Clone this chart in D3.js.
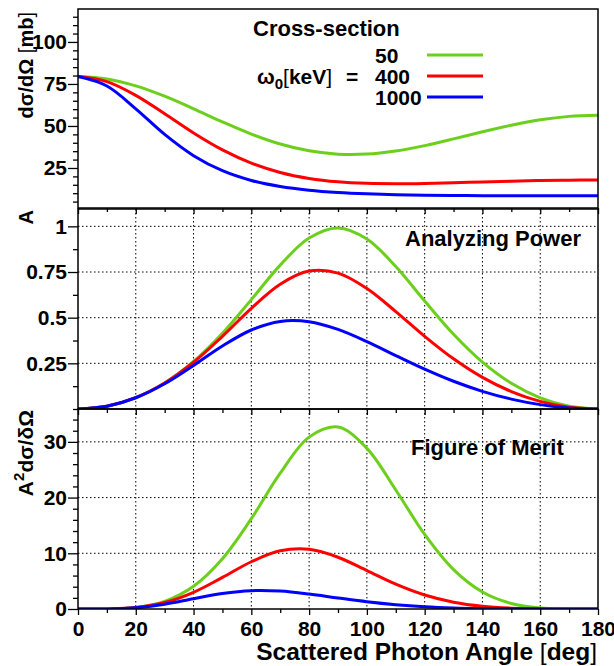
<!DOCTYPE html>
<html>
<head>
<meta charset="utf-8">
<script src="https://cdn.jsdelivr.net/npm/d3@7"></script>
<style>
  body { margin: 0; background: #fff; }
  text { font-family: "Liberation Sans", Arial, Helvetica, sans-serif; font-weight: bold; fill: #000; }
</style>
</head>
<body>
<svg id="chart" width="614" height="666"></svg>
<script>
// scattering angle samples [deg]
const angles = [0, 10, 20, 30, 40, 50, 60, 70, 80, 90, 100, 110, 120, 130, 140, 150, 160, 170, 180];

// cross-section dσ/dΩ [mb]
const xsec50   = [79.4, 77.97, 73.88, 67.70, 60.23, 52.42, 45.19, 39.28, 35.21, 33.23, 33.28, 35.12, 38.30, 42.30, 46.54, 50.48, 53.66, 55.71, 56.43];
const xsec400  = [79.4, 76.38, 68.21, 57.24, 45.81, 35.74, 27.89, 22.35, 18.80, 16.78, 15.85, 15.63, 15.82, 16.23, 16.71, 17.16, 17.52, 17.75, 17.83];
const xsec1000 = [79.4, 73.79, 60.20, 44.97, 32.33, 23.39, 17.59, 13.97, 11.76, 10.42, 9.61, 9.12, 8.82, 8.64, 8.53, 8.47, 8.44, 8.42, 8.41];

// analyzing power A
const ap50   = [0, 0.0153, 0.0621, 0.1428, 0.2603, 0.4149, 0.5989, 0.7878, 0.9360, 0.9914, 0.9308, 0.7799, 0.5911, 0.4088, 0.2563, 0.1406, 0.0611, 0.0151, 0];
const ap400  = [0, 0.0153, 0.0621, 0.1420, 0.2558, 0.3980, 0.5514, 0.6834, 0.7552, 0.7442, 0.6597, 0.5335, 0.3981, 0.2747, 0.1730, 0.0955, 0.0418, 0.0103, 0];
const ap1000 = [0, 0.0153, 0.0617, 0.1385, 0.2387, 0.3450, 0.4325, 0.4794, 0.4779, 0.4357, 0.3687, 0.2925, 0.2181, 0.1518, 0.0968, 0.0542, 0.0239, 0.0060, 0];

// figure of merit A^2 dσ/dΩ
const fom50   = [0, 0.018, 0.285, 1.381, 4.081, 9.024, 16.21, 24.38, 30.85, 32.65, 28.83, 21.36, 13.38, 7.069, 3.056, 0.998, 0.201, 0.013, 0];
const fom400  = [0, 0.018, 0.263, 1.155, 2.998, 5.663, 8.481, 10.44, 10.72, 9.295, 6.900, 4.448, 2.507, 1.225, 0.500, 0.157, 0.031, 0.002, 0];
const fom1000 = [0, 0.017, 0.229, 0.863, 1.843, 2.785, 3.291, 3.211, 2.686, 1.978, 1.306, 0.780, 0.419, 0.199, 0.080, 0.025, 0.005, 0.0003, 0];

const energies = ["50", "400", "1000"];
const colors = ["#6ccf1c", "#ff0000", "#0000ff"];

const xTicks = [0, 20, 40, 60, 80, 100, 120, 140, 160, 180];
const csTicks = [25, 50, 75, 100];
const apTicks = [0.25, 0.5, 0.75, 1];
const fomTicks = [0, 10, 20, 30];

const svg = d3.select("#chart");
const xLeft = 78, xRight = 598;
const xScale = d3.scaleLinear().domain([0, 180]).range([xLeft, xRight]);

const panels = [
  { id: "cs", top: 9, bottom: 208, domain: [1.19, 119.6], ticks: csTicks, minorStep: 5,
    grid: false, series: [xsec50, xsec400, xsec1000] },
  { id: "ap", top: 209, bottom: 409, domain: [0, 1.095], ticks: apTicks, minorStep: 0.125,
    grid: true, series: [ap50, ap400, ap1000] },
  { id: "fom", top: 409, bottom: 609, domain: [0, 35.9], ticks: fomTicks, minorStep: 2,
    grid: true, series: [fom50, fom400, fom1000] }
];

panels.forEach((p, pi) => {
  const y = d3.scaleLinear().domain(p.domain).range([p.bottom, p.top]);
  const g = svg.append("g").attr("class", "panel-" + p.id);

  g.append("clipPath").attr("id", "clip-" + p.id)
    .append("rect").attr("x", xLeft).attr("y", p.top)
    .attr("width", xRight - xLeft).attr("height", p.bottom - p.top);

  // dotted grid
  if (p.grid) {
    g.selectAll(".vgrid").data(xTicks.filter(d => d > 0 && d < 180)).enter()
      .append("line").attr("class", "vgrid")
      .attr("x1", d => xScale(d)).attr("x2", d => xScale(d))
      .attr("y1", p.top).attr("y2", p.bottom)
      .style("stroke", "#000").style("stroke-width", 1).style("stroke-dasharray", "1.5,2.5");
    g.selectAll(".hgrid").data(p.ticks.filter(d => d > p.domain[0])).enter()
      .append("line").attr("class", "hgrid")
      .attr("x1", xLeft).attr("x2", xRight)
      .attr("y1", d => y(d)).attr("y2", d => y(d))
      .style("stroke", "#000").style("stroke-width", 1).style("stroke-dasharray", "1.5,2.5");
  }

  // curves
  const line = d3.line()
    .x((d, i) => xScale(angles[i]))
    .y(d => y(d))
    .curve(d3.curveCatmullRom.alpha(0.5));
  p.series.forEach((s, si) => {
    g.append("path").datum(s)
      .attr("clip-path", "url(#clip-" + p.id + ")")
      .attr("d", line)
      .style("fill", "none")
      .style("stroke", colors[si])
      .style("stroke-width", 3);
  });

  // y axis: major + minor ticks pointing out
  const minorVals = d3.range(0, p.domain[1], p.minorStep)
    .filter(v => v >= p.domain[0] && !p.ticks.some(t => Math.abs(t - v) < 1e-6));
  g.append("g").attr("transform", `translate(${xLeft},0)`)
    .call(d3.axisLeft(y).tickValues(minorVals).tickSize(5).tickFormat(""))
    .call(a => a.select(".domain").remove());
  const fmt = v => (p.id === "ap" ? String(v) : d3.format("d")(v));
  g.append("g").attr("class", "yaxis").attr("transform", `translate(${xLeft},0)`)
    .call(d3.axisLeft(y).tickValues(p.ticks).tickSize(10).tickPadding(1).tickFormat(fmt))
    .call(a => a.select(".domain").remove())
    .call(a => a.selectAll("text").style("font-size", "21px"));

  // x ticks at the bottom edge, pointing down
  const xAxis = g.append("g").attr("transform", `translate(0,${p.bottom})`);
  xAxis.append("g")
    .call(d3.axisBottom(xScale).tickValues(d3.range(10, 180, 20)).tickSize(4).tickFormat(""))
    .call(a => a.select(".domain").remove());
  xAxis.append("g").attr("class", "xaxis")
    .call(d3.axisBottom(xScale).tickValues(xTicks).tickSize(6).tickPadding(6)
      .tickFormat(pi === 2 ? d3.format("d") : ""))
    .call(a => a.select(".domain").remove())
    .call(a => a.selectAll("text").style("font-size", "21px"));

  g.selectAll(".tick line").style("stroke", "#000").style("stroke-width", 1.3);
  g.selectAll(".tick text").style("fill", "#000");

  // frame
  g.append("rect").attr("x", xLeft).attr("y", p.top)
    .attr("width", xRight - xLeft).attr("height", p.bottom - p.top)
    .style("fill", "none").style("stroke", "#000").style("stroke-width", 1.5);
});

// y axis titles
const titleTop = svg.append("text").attr("transform", "translate(33,12) rotate(-90)")
  .attr("text-anchor", "end").style("font-size", "20px");
titleTop.append("tspan").text("dσ/dΩ ");
titleTop.append("tspan").style("font-weight", "normal").text("[");
titleTop.append("tspan").text("mb");
titleTop.append("tspan").style("font-weight", "normal").text("]");

svg.append("text").attr("transform", "translate(33,210) rotate(-90)")
  .attr("text-anchor", "end").style("font-size", "20px").text("A");

const titleBot = svg.append("text").attr("transform", "translate(33,410) rotate(-90)")
  .attr("text-anchor", "end").style("font-size", "21px");
titleBot.append("tspan").text("A");
titleBot.append("tspan").attr("dy", -9).style("font-size", "15px").text("2");
titleBot.append("tspan").attr("dy", 9).text("dσ/δΩ");

// x axis title
const xTitle = svg.append("text").attr("x", 597).attr("y", 660)
  .attr("text-anchor", "end").style("font-size", "24.5px");
xTitle.append("tspan").text("Scattered Photon Angle ");
xTitle.append("tspan").style("font-weight", "normal").text("[");
xTitle.append("tspan").text("deg");
xTitle.append("tspan").style("font-weight", "normal").text("]");

// panel labels
svg.append("text").attr("x", 253).attr("y", 36).style("font-size", "22px").text("Cross-section");
svg.append("text").attr("x", 405).attr("y", 246).style("font-size", "22px").text("Analyzing Power");
svg.append("text").attr("x", 411).attr("y", 455).style("font-size", "22px").text("Figure of Merit");

// legend
const omega = svg.append("text").attr("x", 257).attr("y", 84).style("font-size", "21px");
omega.append("tspan").text("ω");
omega.append("tspan").attr("dy", 5).style("font-size", "15px").text("0");
omega.append("tspan").attr("dy", -5).style("font-weight", "normal").text("[");
omega.append("tspan").text("keV");
omega.append("tspan").style("font-weight", "normal").text("]");
omega.append("tspan").attr("x", 346).text("=");

const legendY = [55, 76, 97];
energies.forEach((e, i) => {
  svg.append("text").attr("x", 375).attr("y", legendY[i] + 8).style("font-size", "21px").text(e);
  svg.append("line").attr("x1", 427).attr("x2", 483)
    .attr("y1", legendY[i]).attr("y2", legendY[i])
    .style("stroke", colors[i]).style("stroke-width", 3);
});
</script>
</body>
</html>
